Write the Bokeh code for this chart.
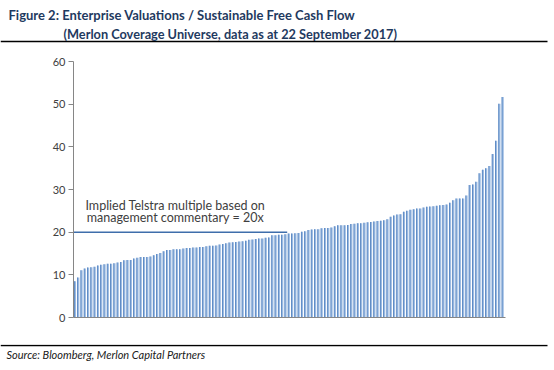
from bokeh.plotting import figure
from bokeh.layouts import column
from bokeh.models import Label, Range1d, FixedTicker
from bokeh.embed import file_html
from bokeh.resources import INLINE

# EV / sustainable FCF multiples, sorted
values = [
    8.5, 9.4, 11.1, 11.5, 11.7, 11.8, 11.9, 12.2, 12.35, 12.5, 12.6, 12.6, 12.7, 12.9, 13.0, 13.4, 13.5, 13.5, 13.8,
    14.0, 14.2, 14.2, 14.2, 14.3, 14.6, 14.9, 15.1, 15.5, 15.8, 15.8, 16.0, 16.0, 16.0, 16.2, 16.3, 16.3, 16.4, 16.4,
    16.5, 16.5, 16.7, 16.8, 16.8, 16.9, 17.1, 17.25, 17.4, 17.6, 17.65, 17.7, 17.8, 17.9, 18.0, 18.2, 18.3, 18.4, 18.5,
    18.5, 18.67, 18.75, 19.3, 19.3, 19.4, 19.4, 19.5, 19.7, 19.7, 19.75, 19.8, 20.1, 20.2, 20.5, 20.6, 20.7, 20.7, 20.9, 20.95,
    20.95, 21.1, 21.4, 21.6, 21.6, 21.65, 21.7, 21.9, 21.95, 22.1, 22.1, 22.2, 22.3, 22.4, 22.5, 22.6, 22.7, 22.8, 23.05,
    23.6, 23.9, 24.15, 24.2, 24.8, 25.0, 25.25, 25.4, 25.55, 25.55, 25.8, 25.95, 26.0, 26.1, 26.2, 26.3, 26.35, 26.5, 26.9,
    27.5, 27.9, 27.9, 27.9, 28.6, 31.05, 31.2, 31.8, 33.8, 34.6, 35.0, 35.5, 38.3, 41.4, 50.1, 51.7,
]
idx = list(range(len(values)))
y_ticks = [0, 10, 20, 30, 40, 50, 60]

ref_value = 20           # implied Telstra multiple
ref_end = 64.5           # reference line reaches this bar position
annot_lines = ["Implied Telstra multiple based on", "management commentary = 20x"]
annot_x = 30.5
annot_y = [26.2, 23.5]

title1 = "Figure 2:  Enterprise Valuations / Sustainable Free Cash Flow"
title2 = "(Merlon Coverage Universe, data as at 22 September 2017)"
source = "Source: Bloomberg, Merlon Capital Partners"

FONT = "Lato"
W = 552
TOP_H, MAIN_H, BOT_H = 44, 300, 24
FL, FR = 73, 505          # frame left/right on canvas
FT, FB = 17, 273          # frame top/bottom inside main figure


def band(h):
    f = figure(width=W, height=h, output_backend="svg", toolbar_location=None,
               x_range=Range1d(0, W), y_range=Range1d(h, 0),
               x_axis_location=None, y_axis_location=None,
               min_border=0, min_border_left=0, min_border_right=0,
               min_border_top=0, min_border_bottom=0, frame_align=False)
    f.outline_line_color = None
    f.xgrid.grid_line_color = None
    f.ygrid.grid_line_color = None
    return f


# --- title band
top = band(TOP_H)
top.add_layout(Label(x=8, y=14, text=title1, text_font=FONT, text_font_style="bold",
                     text_font_size="13px", text_color="#1F3A60", text_baseline="middle"))
top.add_layout(Label(x=63, y=33, text=title2, text_font=FONT, text_font_style="bold",
                     text_font_size="12.75px", text_color="#1F3A60", text_baseline="middle"))
top.segment(x0=[0], y0=[41], x1=[547], y1=[41], line_color="black", line_width=1.6)

# --- main chart
p = figure(width=W, height=MAIN_H, output_backend="svg", toolbar_location=None,
           x_range=Range1d(-0.45, len(values) - 0.15), y_range=Range1d(0, 60),
           min_border_left=FL, min_border_right=W - FR, min_border_top=FT, min_border_bottom=MAIN_H - FB,
           frame_align=False)
p.outline_line_color = None
p.xgrid.grid_line_color = None
p.ygrid.grid_line_color = None

# bars: light body + darker left edge (Excel-like gradient)
p.vbar(x=idx, top=values, width=0.64, fill_color="#9CBBE2", line_color=None)
p.vbar(x=[i - 0.2 for i in idx], top=values, width=0.24, fill_color="#4F7FBE", line_color=None)

# reference line + annotation
p.segment(x0=[-0.45], y0=[ref_value], x1=[ref_end], y1=[ref_value], line_color="#3F6EAB", line_width=1.5)
for t, yy in zip(annot_lines, annot_y):
    p.add_layout(Label(x=annot_x, y=yy, text=t, text_align="center", text_baseline="middle",
                       text_font=FONT, text_font_size="12.5px", text_color="#404040"))

p.yaxis.ticker = FixedTicker(ticks=y_ticks)
p.yaxis.axis_line_color = "#868686"
p.yaxis.major_tick_line_color = "#868686"
p.yaxis.major_tick_out = 5
p.yaxis.major_tick_in = 0
p.yaxis.minor_tick_line_color = None
p.yaxis.major_label_standoff = 3
p.yaxis.major_label_text_font = FONT
p.yaxis.major_label_text_font_size = "11px"
p.yaxis.major_label_text_color = "#404040"

p.xaxis.ticker = FixedTicker(ticks=[])
p.xaxis.axis_line_color = "#868686"
p.xaxis.major_tick_line_color = None
p.xaxis.minor_tick_line_color = None

# --- source band
bot = band(BOT_H)
bot.segment(x0=[0], y0=[1], x1=[547], y1=[1], line_color="black", line_width=1.6)
bot.add_layout(Label(x=6, y=10, text=source, text_font=FONT, text_font_style="italic",
                     text_font_size="11px", text_color="#202020", text_baseline="middle"))

layout = column(top, p, bot, spacing=0)
open("out.html", "w").write(file_html(layout, INLINE))
